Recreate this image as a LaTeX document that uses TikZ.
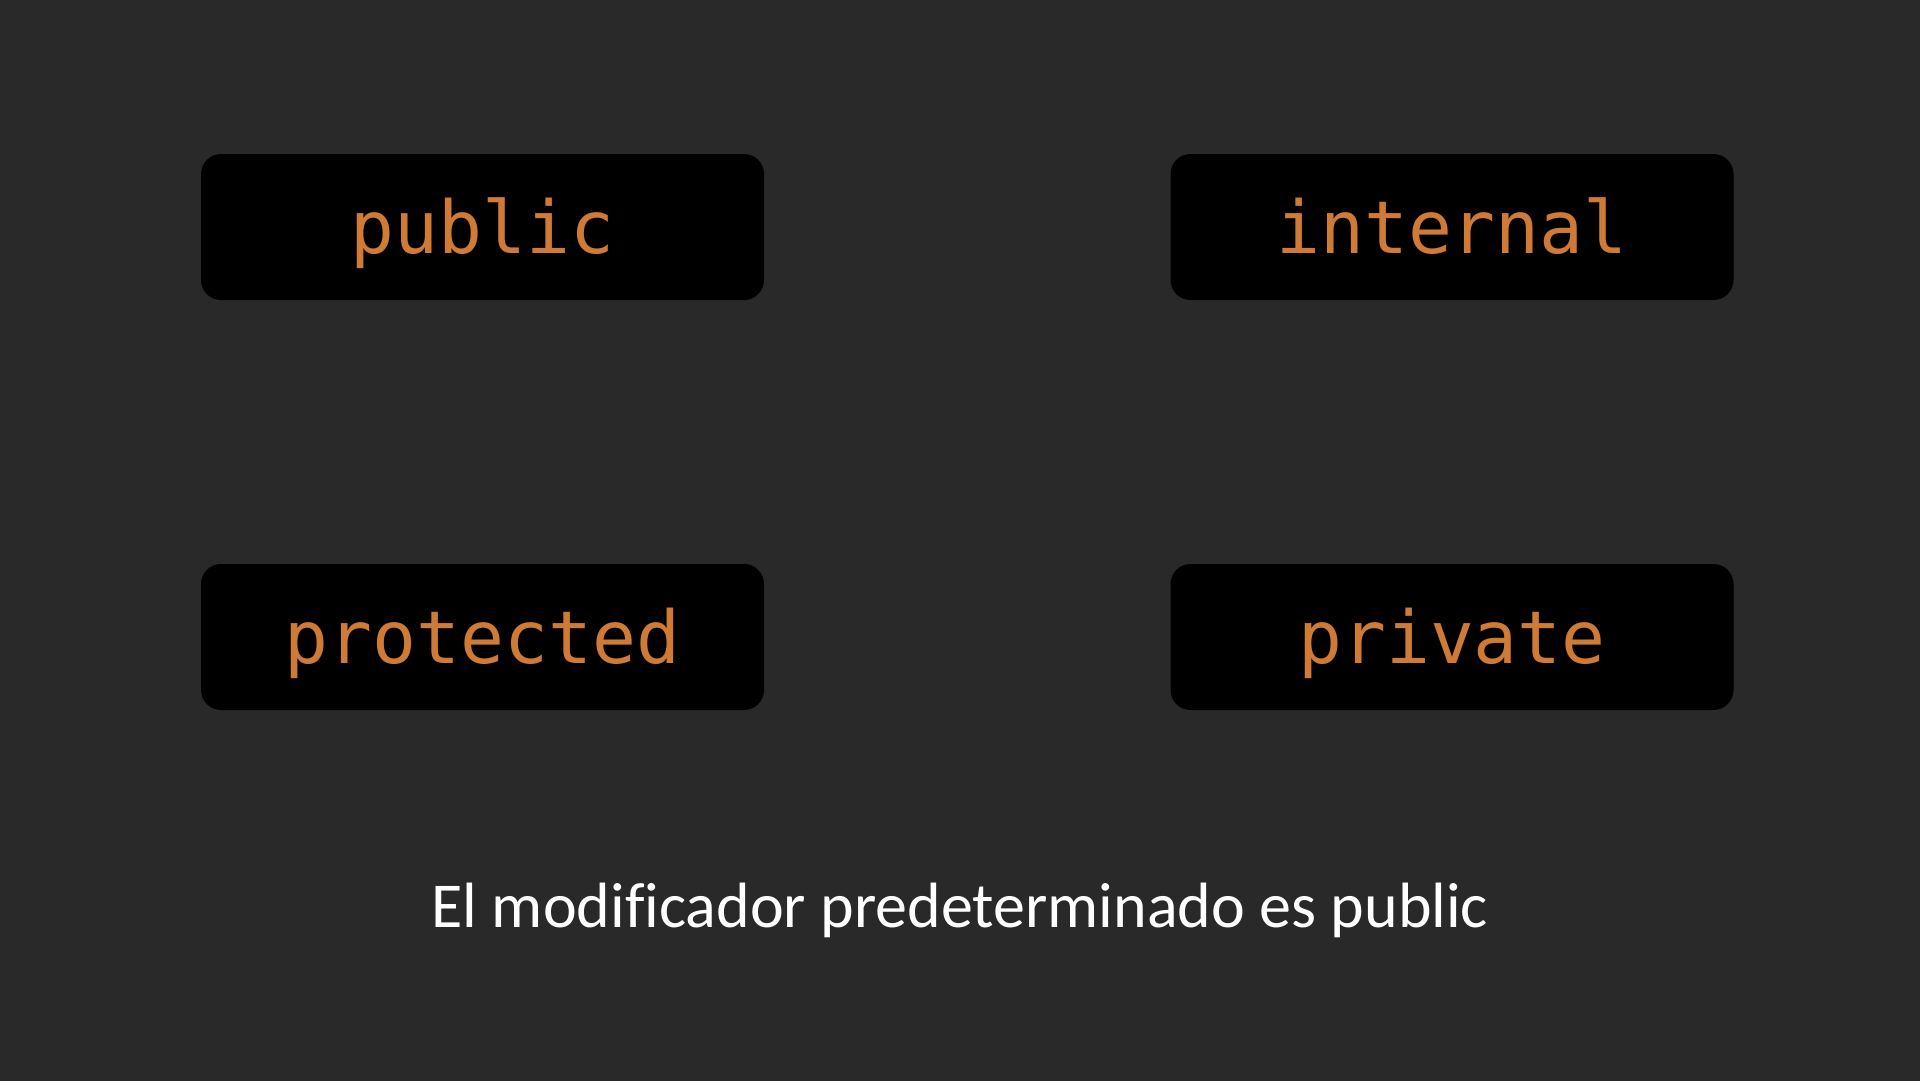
\documentclass[tikz,border=0pt]{standalone}
\usepackage{fontspec}
\setmainfont{Carlito}[Ligatures=NoCommon]
\newfontfamily\codefont{DejaVu Sans Mono}
\definecolor{bgc}{HTML}{292929}
\definecolor{kw}{HTML}{CF7A35}
\begin{document}
\begin{tikzpicture}[x=1pt,y=-1pt,
  kbox/.style={fill=black,rounded corners=20pt,minimum width=563pt,minimum height=146pt,inner sep=0pt},
  klabel/.style={anchor=base,text=kw,font=\codefont\fontsize{73}{80}\selectfont,inner sep=0pt},
  note/.style={anchor=base,text=white,font=\fontsize{64}{74}\selectfont,inner sep=0pt}]
\useasboundingbox (0,0) rectangle (1920,1080);
\fill[bgc] (-5,-5) rectangle (1925,1085);
\node[kbox] (pub) at (482.5,227) {};
\node[kbox] (int) at (1452,227) {};
\node[kbox] (pro) at (482.5,637) {};
\node[kbox] (pri) at (1452,637) {};
\node[klabel] (pubt) at (482.5,253) {public};
\node[klabel] (intt) at (1452,253) {internal};
\node[klabel] (prot) at (482.5,663) {protected};
\node[klabel] (prit) at (1452,663) {private};
\node[note] (txt) at (960,927) {El modificador predeterminado es public};
\end{tikzpicture}
\end{document}
